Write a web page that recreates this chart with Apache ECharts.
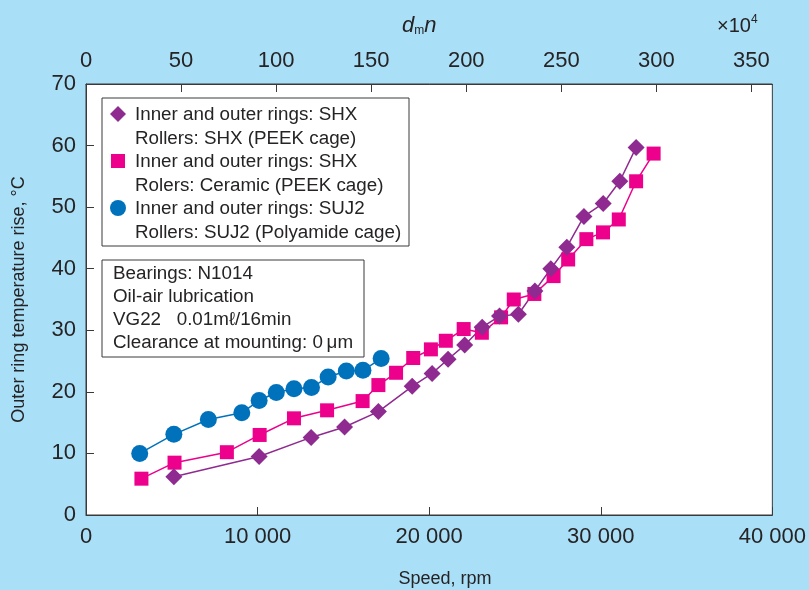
<!DOCTYPE html>
<html><head><meta charset="utf-8">
<script src="https://cdn.jsdelivr.net/npm/echarts@6/dist/echarts.min.js"></script>
<style>html,body{margin:0;padding:0;background:#aadff8;}#c{width:809px;height:590px;}</style>
</head><body><div id="c"></div>
<script>
// Data (speed in rpm, outer ring temperature rise in °C)
const shxSpeed = [5120,10090,13120,15070,17040,19010,20170,21100,22070,23090,24100,25200,26160,27090,28020,29020,30140,31110,32060];
const shxTemp  = [6.2,9.5,12.6,14.3,16.8,20.9,23.0,25.3,27.6,30.5,32.3,32.6,36.4,40.0,43.5,48.5,50.6,54.2,59.7];
const ceramicSpeed = [3230,5160,8210,10120,12120,14050,16120,17040,18070,19070,20100,20970,22010,23070,24190,24930,26130,27250,28100,29160,30130,31050,32060,33080];
const ceramicTemp  = [5.9,8.5,10.2,13.0,15.7,17.0,18.5,21.1,23.1,25.5,26.9,28.3,30.2,29.6,32.1,35.0,35.9,38.8,41.5,44.8,45.9,48.0,54.2,58.7];
const suj2Speed = [3130,5120,7130,9080,10090,11090,12120,13140,14110,15170,16140,17200];
const suj2Temp  = [10.0,13.1,15.5,16.6,18.6,19.9,20.5,20.7,22.4,23.4,23.5,25.4];
const legendLines = [
  ['Inner and outer rings: SHX','Rollers: SHX (PEEK cage)'],
  ['Inner and outer rings: SHX','Rolers: Ceramic (PEEK cage)'],
  ['Inner and outer rings: SUJ2','Rollers: SUJ2 (Polyamide cage)']
];
const noteLines = ['Bearings: N1014','Oil-air lubrication','VG22   0.01m\u2113/16min','Clearance at mounting: 0\u2009\u03bcm'];
const xTitle = 'Speed, rpm';
const yTitle = 'Outer ring temperature rise, \u00b0C';

const C_SHX = '#8e2a90', C_CER = '#ec008c', C_SUJ = '#0072bc';
const TXT = '#262324';
const FONT = 'Liberation Sans, Arial, sans-serif';
const pairs = (a,b) => a.map((v,i)=>[v,b[i]]);

const chart = echarts.init(document.getElementById('c'));
const axisLineStyle = {color:'#3a3a3a', width:1};
chart.setOption({
  backgroundColor:'#aadff8',
  animation:false,
  grid:{left:86, right:32, top:84, bottom:75, show:true, backgroundColor:'#ffffff', borderColor:'#3a3a3a', borderWidth:1},
  xAxis:[
    {type:'value', min:0, max:40000, interval:10000, position:'bottom',
     axisLine:{show:true, lineStyle:axisLineStyle}, axisTick:{show:true, inside:true, length:8, lineStyle:axisLineStyle},
     splitLine:{show:false},
     axisLabel:{margin:11, fontSize:22, color:TXT, fontFamily:FONT,
       formatter:v => v===0 ? '0' : String(v).replace(/\B(?=(\d{3})+(?!\d))/g,' ')}},
    {type:'value', min:0, max:361, interval:50, position:'top',
     axisLine:{show:true, lineStyle:axisLineStyle}, axisTick:{show:true, inside:true, length:8, lineStyle:axisLineStyle},
     splitLine:{show:false},
     axisLabel:{margin:12, fontSize:22, color:TXT, fontFamily:FONT, showMaxLabel:false}}
  ],
  yAxis:[{type:'value', min:0, max:70, interval:10,
     axisLine:{show:true, lineStyle:axisLineStyle}, axisTick:{show:true, inside:true, length:8, lineStyle:axisLineStyle},
     splitLine:{show:false},
     axisLabel:{margin:10, fontSize:22, color:TXT, fontFamily:FONT},
     name:yTitle, nameLocation:'middle', nameGap:58, nameRotate:90, nameTextStyle:{fontSize:18, color:TXT, fontFamily:FONT}}],
  series:[
    {type:'line', name:'SUJ2', data:pairs(suj2Speed,suj2Temp), symbol:'circle', symbolSize:17,
     itemStyle:{color:C_SUJ}, lineStyle:{color:C_SUJ, width:1.5}},
    {type:'line', name:'Ceramic', data:pairs(ceramicSpeed,ceramicTemp), symbol:'rect', symbolSize:14,
     itemStyle:{color:C_CER}, lineStyle:{color:C_CER, width:1.5}},
    {type:'line', name:'SHX', data:pairs(shxSpeed,shxTemp), symbol:'diamond', symbolSize:[17,17],
     itemStyle:{color:C_SHX}, lineStyle:{color:C_SHX, width:1.5}}
  ],
  graphic:[
    // legend box
    {type:'rect', shape:{x:102, y:98, width:307, height:148}, style:{fill:'#ffffff', stroke:'#3a3a3a', lineWidth:1}, z:10},
    {type:'polygon', shape:{points:[[118,106],[126,114],[118,122],[110,114]]}, style:{fill:C_SHX}, z:11},
    {type:'rect', shape:{x:111, y:154, width:14, height:14}, style:{fill:C_CER}, z:11},
    {type:'circle', shape:{cx:118, cy:208, r:8}, style:{fill:C_SUJ}, z:11},
    ...legendLines.flatMap((pair,i)=>pair.map((t,j)=>({type:'text', z:11,
      style:{x:135, y:115 + i*47 + j*23.5, text:t, fill:TXT, font:'18.8px '+FONT, verticalAlign:'middle'}}))),
    // note box
    {type:'rect', shape:{x:102, y:260, width:262, height:97}, style:{fill:'#ffffff', stroke:'#3a3a3a', lineWidth:1}, z:10},
    ...noteLines.map((t,i)=>({type:'text', z:11,
      style:{x:113, y:274 + i*23, text:t, fill:TXT, font:'18.8px '+FONT, verticalAlign:'middle'}})),
    // x axis title
    {type:'text', z:11, style:{x:445, y:579, text:xTitle, fill:TXT, font:'18px '+FONT, align:'center', verticalAlign:'middle'}},
    // top axis title dmn and x10^4
    {type:'text', z:11, style:{x:402, y:26, verticalAlign:'middle', text:'{d|d}{m|m}{d|n}',
      rich:{d:{fontSize:22, fontStyle:'italic', fontFamily:FONT, fill:TXT},
            m:{fontSize:12, fontFamily:FONT, fill:TXT, padding:[10,0,0,0]}}}},
    {type:'text', z:11, style:{x:717, y:26, verticalAlign:'middle', text:'{a|\u00d710}{s|4}',
      rich:{a:{fontSize:20, fontFamily:FONT, fill:TXT},
            s:{fontSize:12, fontFamily:FONT, fill:TXT, padding:[0,0,12,0]}}}}
  ]
});
</script></body></html>
